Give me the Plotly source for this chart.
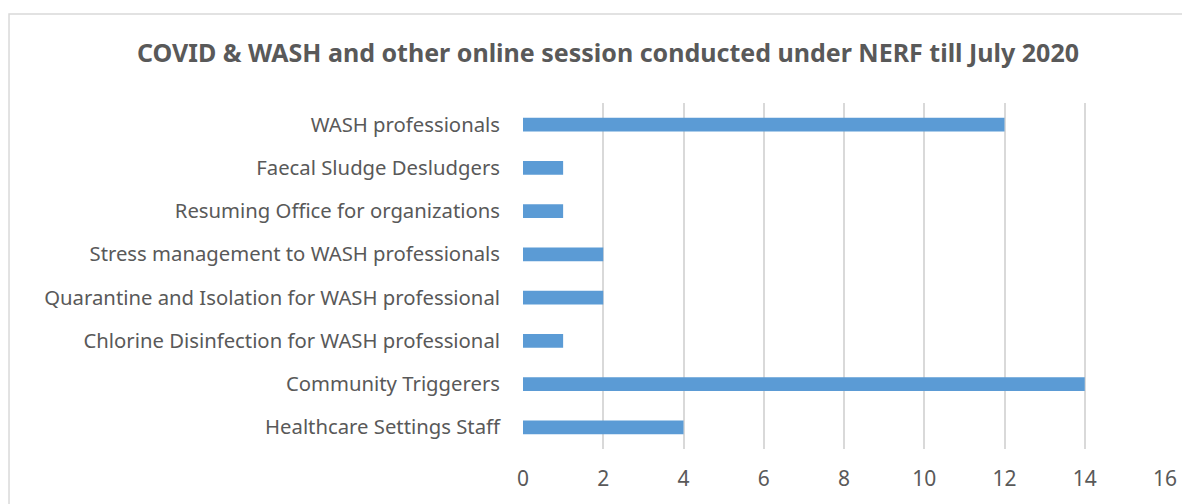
import plotly.graph_objects as go

categories = [
    "Healthcare Settings Staff",
    "Community Triggerers",
    "Chlorine Disinfection for WASH professional",
    "Quarantine and Isolation for WASH professional",
    "Stress management to WASH professionals",
    "Resuming Office for organizations",
    "Faecal Sludge Desludgers",
    "WASH professionals",
]
sessions = [4, 14, 1, 2, 2, 1, 1, 12]
x_ticks = [0, 2, 4, 6, 8, 10, 12, 14, 16]

text_color = "#595959"
font_family = "Noto Sans, Open Sans, sans-serif"

fig = go.Figure()

fig.add_trace(
    go.Bar(
        x=sessions,
        y=categories,
        orientation="h",
        marker=dict(color="#5B9BD5", line=dict(width=0)),
        width=0.32,
    )
)

fig.update_layout(
    width=1182,
    height=496,
    margin=dict(l=515, r=25, t=95, b=50),
    paper_bgcolor="white",
    plot_bgcolor="white",
    showlegend=False,
    font=dict(family=font_family, color=text_color, size=20),
    title=dict(
        text="<b>COVID & WASH and other online session conducted under NERF till July 2020</b>",
        x=0.5076,
        xanchor="center",
        xref="container",
        y=0.909,
        yanchor="middle",
        yref="container",
        font=dict(size=25, color=text_color, family=font_family),
    ),
    xaxis=dict(
        range=[0, 16],
        tickvals=x_ticks,
        showgrid=True,
        gridcolor="#D9D9D9",
        gridwidth=1.5,
        zeroline=False,
        showline=False,
        ticks="",
        tickfont=dict(size=21, color=text_color),
        ticklabelstandoff=15,
    ),
    yaxis=dict(
        type="category",
        categoryorder="array",
        categoryarray=categories,
        showgrid=False,
        zeroline=False,
        showline=False,
        ticks="",
        tickfont=dict(size=20.3, color=text_color),
        ticklabelstandoff=22,
    ),
    shapes=[
        dict(
            type="rect",
            xref="paper",
            yref="paper",
            x0=-0.8006,
            x1=2.0,
            y0=-1.0,
            y1=1.257,
            line=dict(color="#D9D9D9", width=1.5),
            fillcolor="rgba(0,0,0,0)",
            layer="below",
        )
    ],
)

fig.write_html("out.html")
